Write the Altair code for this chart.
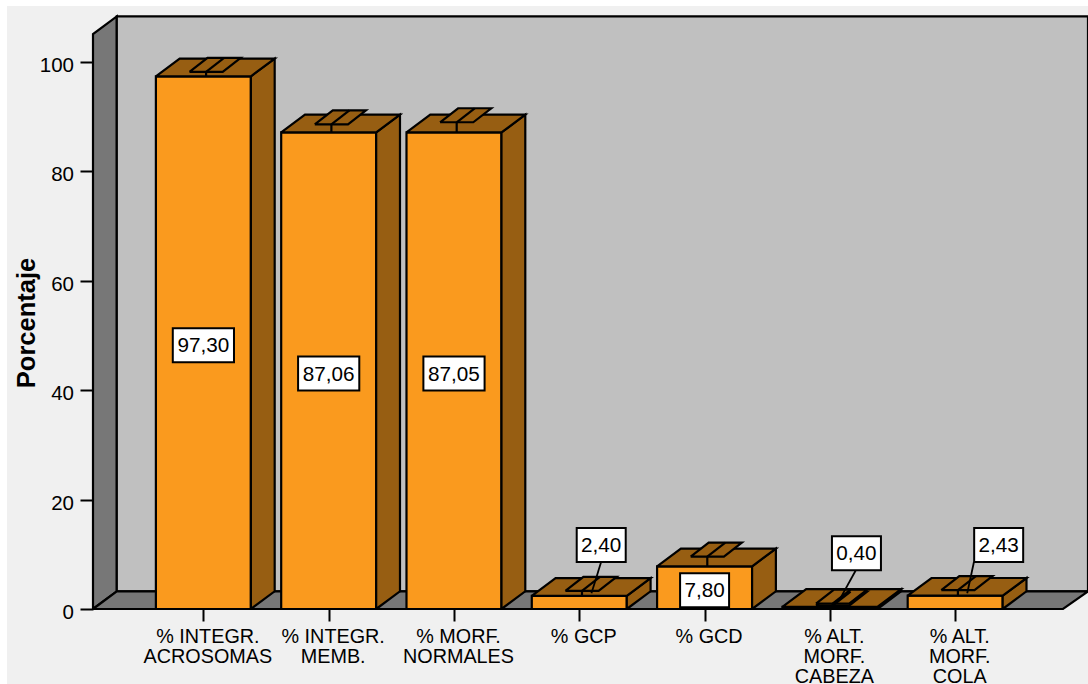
import altair as alt
import pandas as pd

# Series read for the seven semen-quality indicators
categories = [
    "% INTEGR.\nACROSOMAS", "% INTEGR.\nMEMB.", "% MORF.\nNORMALES", "% GCP",
    "% GCD", "% ALT.\nMORF.\nCABEZA", "% ALT.\nMORF.\nCOLA",
]
values = [97.30, 87.06, 87.05, 2.40, 7.80, 0.40, 2.43]
value_labels = ["97,30", "87,06", "87,05", "2,40", "7,80", "0,40", "2,43"]
err_high = [98.1, 88.5, 88.9, 3.3, 9.55, 1.0, 3.45]
err_low = [96.5, 85.6, 85.2, 1.5, 6.0, 0.6, 1.4]

# Label box centres (category position, percent)
label_x = [0.0, 1.0, 2.0, 3.175, 4.0, 5.212, 6.347]
label_y = [48.16, 43.0, 43.0, 11.7, 3.43, 10.17, 11.7]
# Leader lines for labels lifted off their bar: start on the box edge, end on the bar
leader_x = [3.175, 5.208, 6.15]
leader_top = [8.64, 7.12, 8.64]
leader_foot_x = [3.097, 5.08, 6.096]
leader_foot_y = [2.87, 1.8, 2.87]

PX_X = 125.3          # pixels per category slot
PX_Y = 5.475          # pixels per percentage point
PLOT_W, PLOT_H = 995, 609
X_MIN = -0.881
X_MAX = X_MIN + PLOT_W / PX_X
Y_MAX = PLOT_H / PX_Y
BAR_HALF = 47.5 / PX_X
DX, DY = 23.8 / PX_X, 17.7 / PX_Y          # depth of bars and walls
CAP_HALF, CAP_DX, CAP_DY = 16.6 / PX_X, 18 / PX_X, 14 / PX_Y
CAP_SHIFT = 2.7 / PX_X
WALL_X = X_MIN
WALL_TOP = 105.0
FLOOR_END = (1063 - 93) / PX_X + X_MIN
LINE_W = 2.2

FACE_NAMES = ["wall", "shade", "front", "side"]
FACE_COLORS = ["#c0c0c0", "#777777", "#fa9a1e", "#975e12"]

polys = []


def poly(face, points):
    polys.append((face, points))


# Chart box: left wall, back wall and floor
poly("shade", [(WALL_X, 0), (WALL_X, WALL_TOP), (WALL_X + DX, WALL_TOP + DY), (WALL_X + DX, DY)])
poly("wall", [(WALL_X + DX, DY), (WALL_X + DX, WALL_TOP + DY), (X_MAX, WALL_TOP + DY), (X_MAX, DY)])
poly("shade", [(WALL_X, 0), (WALL_X + DX, DY), (X_MAX, DY), (FLOOR_END, 0)])


def cap_polys(i, level):
    left = i + CAP_SHIFT - CAP_HALF
    right = i + CAP_SHIFT + CAP_HALF
    poly("side", [(left, level), (right, level), (right + CAP_DX, level + CAP_DY), (left + CAP_DX, level + CAP_DY)])


inner = []
for i, v in enumerate(values):
    l, r = i - BAR_HALF, i + BAR_HALF
    poly("front", [(l, 0), (l, v), (r, v), (r, 0)])
    poly("side", [(r, 0), (r, v), (r + DX, v + DY), (r + DX, DY)])
    poly("side", [(l, v), (l + DX, v + DY), (r + DX, v + DY), (r, v)])
    # 3-D error caps: the lower one only shows when it lies above the bar top
    if err_low[i] > v:
        cap_polys(i, err_low[i])
        inner.append({"x": i + CAP_SHIFT, "y": err_low[i], "x2": i + CAP_SHIFT + CAP_DX, "y2": err_low[i] + CAP_DY})
    cap_polys(i, err_high[i])
    inner.append({"x": i + CAP_SHIFT, "y": err_high[i], "x2": i + CAP_SHIFT + CAP_DX, "y2": err_high[i] + CAP_DY})
    inner.append({"x": i + CAP_SHIFT, "y": v, "x2": i + CAP_SHIFT, "y2": err_high[i]})

rows = []
for pid, (face, pts) in enumerate(polys):
    for n, (px, py) in enumerate(list(pts) + [pts[0]]):
        rows.append({"poly": f"p{pid:03d}", "n": n, "face": face, "x": px, "y": py})
poly_df = pd.DataFrame(rows)

x_scale = alt.Scale(domain=[X_MIN, X_MAX], range=[0, PLOT_W], nice=False, zero=False)
y_scale = alt.Scale(domain=[0, Y_MAX], range=[PLOT_H, 0], nice=False, zero=False)

label_lookup = "split('" + "|".join(c.replace("\n", "~") for c in categories) + "', '|')[datum.value]"
x_axis = alt.Axis(
    values=list(range(len(categories))),
    labelExpr="split(" + label_lookup + ", '~')",
    title=None, domain=False, grid=False, tickSize=12, tickWidth=2, tickColor="#000000",
    labelFont="Liberation Sans", labelFontSize=19.8, labelColor="#000000", labelPadding=5,
    labelLineHeight=20, labelOffset=4, labelOverlap=False, labelBaseline="top",
    labelBound=False, labelFlush=False, zindex=1,
)
y_axis = alt.Axis(
    values=[0, 20, 40, 60, 80, 100],
    title="Porcentaje", titleFont="Liberation Sans", titleFontSize=25.5, titleFontWeight="bold",
    titleColor="#000000", titleAngle=270, titleAlign="center", titleBaseline="alphabetic",
    titleX=-59, titleY=322.5,
    domain=False, grid=False, tickSize=13, tickWidth=2, tickColor="#000000",
    labelFont="Liberation Sans", labelFontSize=20.5, labelColor="#000000", labelPadding=6.5,
    labelOffset=3.5, labelOverlap=False, labelBound=False, labelFlush=False, zindex=1,
)
x_enc = alt.X("x:Q", scale=x_scale, axis=x_axis)
y_enc = alt.Y("y:Q", scale=y_scale, axis=y_axis)

# Light panel behind everything
panel = alt.Chart(pd.DataFrame({"a": [0]})).mark_rect(fill="#f0f0f0", clip=False).encode(
    x=alt.value(-86), x2=alt.value(PLOT_W), y=alt.value(6), y2=alt.value(684),
)

faces = alt.Chart(poly_df).mark_line(stroke="#000000", strokeWidth=LINE_W, strokeJoin="miter", clip=False).encode(
    x=x_enc,
    y=y_enc,
    order="n:Q",
    detail="poly:N",
    fill=alt.Fill("face:N", scale=alt.Scale(domain=FACE_NAMES, range=FACE_COLORS), legend=None),
)

segments = alt.Chart(pd.DataFrame(inner)).mark_rule(stroke="#000000", strokeWidth=LINE_W, clip=False).encode(
    x=x_enc, y=y_enc, x2="x2:Q", y2="y2:Q",
)

lead_df = pd.DataFrame({"x": leader_x, "y": leader_top, "x2": leader_foot_x, "y2": leader_foot_y})
leaders = alt.Chart(lead_df).mark_rule(stroke="#000000", strokeWidth=1.8, clip=False).encode(
    x=x_enc, y=y_enc, x2="x2:Q", y2="y2:Q",
)

BOX_W = {4: 24.5, 5: 30.6}
BOX_H = 17.0
label_rows = []
for i, t in enumerate(value_labels):
    hw = BOX_W[len(t)] / PX_X
    hh = BOX_H / PX_Y
    label_rows.append({
        "label": t, "x": label_x[i], "y": label_y[i],
        "xa": label_x[i] - hw, "xb": label_x[i] + hw,
        "ya": label_y[i] - hh, "yb": label_y[i] + hh,
    })
label_df = pd.DataFrame(label_rows)

boxes = alt.Chart(label_df).mark_rect(fill="#ffffff", stroke="#000000", strokeWidth=2, clip=False).encode(
    x=alt.X("xa:Q", scale=x_scale, axis=x_axis),
    x2="xb:Q",
    y=alt.Y("ya:Q", scale=y_scale, axis=y_axis),
    y2="yb:Q",
)
texts = alt.Chart(label_df).mark_text(
    font="Liberation Sans", fontSize=20.7, color="#000000", align="center", baseline="middle", clip=False, dy=1,
).encode(x=x_enc, y=y_enc, text="label:N")

chart = alt.layer(panel, faces, segments, leaders, boxes, texts).properties(
    width=PLOT_W,
    height=PLOT_H,
    padding={"left": 93, "top": 0, "right": 0, "bottom": 75},
    autosize=alt.AutoSizeParams(type="none"),
    background="#ffffff",
).configure_view(stroke=None)

chart.save("out.html", embed_options={"renderer": "svg", "actions": False})
